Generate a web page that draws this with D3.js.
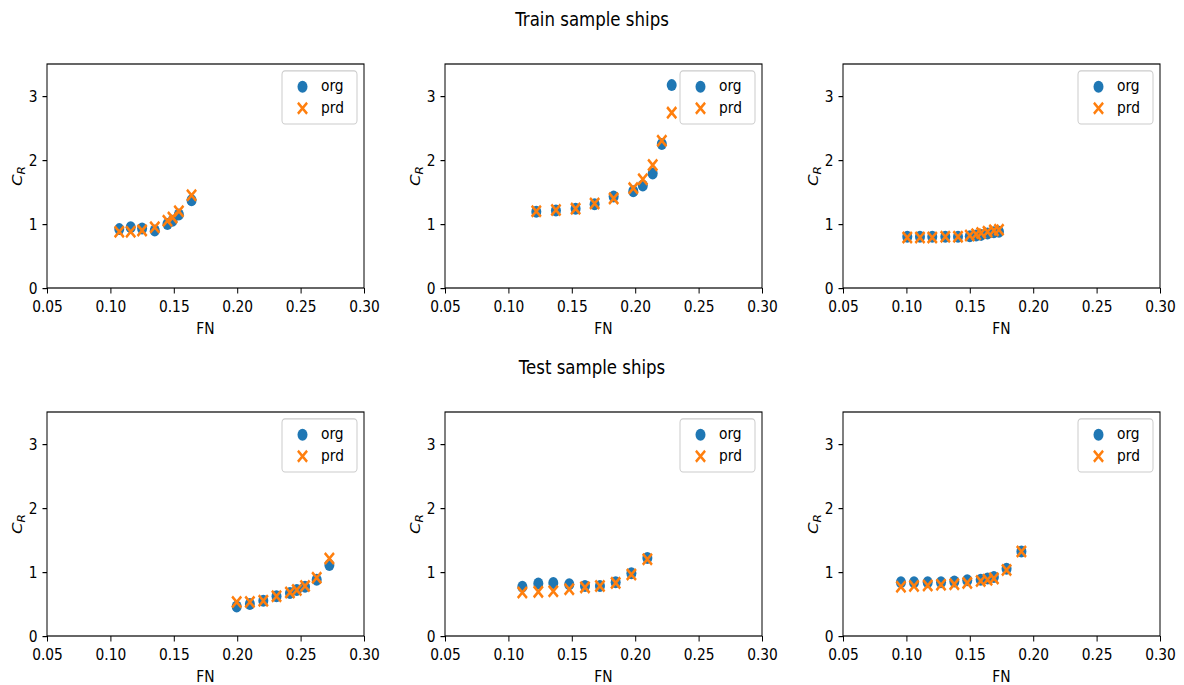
<!DOCTYPE html>
<html>
<head>
<meta charset="utf-8">
<script src="https://cdn.jsdelivr.net/npm/d3@7"></script>
<style>
  body { margin: 0; background: #fff; }
  svg { display: block; }
  text { font-family: "DejaVu Sans", sans-serif; fill: #000; }
</style>
</head>
<body>
<div id="chart"></div>
<script>
// ---- data ----
var titles = ['Train sample ships', 'Test sample ships'];
var xTicks = [0.05, 0.10, 0.15, 0.20, 0.25, 0.30];
var yTicks = [0, 1, 2, 3];

// train 1
var fn1  = [0.107, 0.116, 0.125, 0.135, 0.145, 0.149, 0.154, 0.164];
var org1 = [0.92, 0.95, 0.93, 0.90, 1.00, 1.05, 1.15, 1.37];
var prd1 = [0.88, 0.88, 0.90, 0.95, 1.05, 1.10, 1.20, 1.45];
// train 2
var fn2  = [0.122, 0.1375, 0.153, 0.168, 0.183, 0.1985, 0.206, 0.2138, 0.221, 0.2288];
var org2 = [1.19, 1.21, 1.24, 1.31, 1.43, 1.51, 1.60, 1.79, 2.25, 3.17];
var prd2 = [1.20, 1.22, 1.24, 1.32, 1.40, 1.56, 1.70, 1.92, 2.30, 2.74];
// train 3
var fn3  = [0.1007, 0.1107, 0.1204, 0.1307, 0.1407, 0.150, 0.155, 0.159, 0.164, 0.169, 0.173];
var org3 = [0.80, 0.80, 0.80, 0.80, 0.80, 0.81, 0.82, 0.83, 0.85, 0.87, 0.88];
var prd3 = [0.79, 0.79, 0.79, 0.80, 0.80, 0.82, 0.84, 0.86, 0.88, 0.90, 0.91];
// test 1
var fn4  = [0.1996, 0.210, 0.2206, 0.231, 0.2416, 0.247, 0.2535, 0.2627, 0.2727];
var org4 = [0.46, 0.50, 0.55, 0.62, 0.67, 0.72, 0.77, 0.88, 1.11];
var prd4 = [0.53, 0.53, 0.55, 0.62, 0.68, 0.72, 0.78, 0.91, 1.21];
// test 2
var fn5  = [0.111, 0.1236, 0.1354, 0.148, 0.1604, 0.1722, 0.1846, 0.197, 0.2096];
var org5 = [0.77, 0.82, 0.83, 0.81, 0.78, 0.78, 0.84, 0.98, 1.22];
var prd5 = [0.68, 0.69, 0.70, 0.73, 0.76, 0.78, 0.83, 0.96, 1.20];
// test 3
var fn6  = [0.0957, 0.106, 0.1168, 0.1273, 0.1378, 0.148, 0.1586, 0.164, 0.169, 0.179, 0.1907];
var org6 = [0.84, 0.84, 0.84, 0.84, 0.85, 0.87, 0.88, 0.90, 0.92, 1.05, 1.32];
var prd6 = [0.77, 0.78, 0.79, 0.80, 0.81, 0.83, 0.86, 0.88, 0.90, 1.03, 1.32];

var panels = [
  { fn: fn1, org: org1, prd: prd1 },
  { fn: fn2, org: org2, prd: prd2 },
  { fn: fn3, org: org3, prd: prd3 },
  { fn: fn4, org: org4, prd: prd4 },
  { fn: fn5, org: org5, prd: prd5 },
  { fn: fn6, org: org6, prd: prd6 }
];

// the original figure is stretched vertically, so draw in a squashed
// viewBox and let the browser stretch it back
var S = 1.2,
    W = 1184, H = 685,
    colLeft = [47, 445, 843],
    rowTop = [64 / S, 412 / S],
    pw = 317, ph = 224 / S,
    blue = '#1f77b4', orange = '#ff7f0e',
    tickFont = '13.8px';

var svg = d3.select('#chart').append('svg')
  .attr('width', W)
  .attr('height', H)
  .attr('viewBox', '0 0 ' + W + ' ' + (H / S))
  .attr('preserveAspectRatio', 'none');

// figure row titles
svg.selectAll('.row-title').data(titles)
  .enter().append('text')
    .attr('class', 'row-title')
    .attr('x', 592)
    .attr('y', function(d, i) { return i === 0 ? 26 / S : 374 / S; })
    .attr('text-anchor', 'middle')
    .style('font-size', '16.6px')
    .text(function(d) { return d; });

var x = d3.scaleLinear().domain([0.05, 0.30]).range([0, pw]);
var y = d3.scaleLinear().domain([0, 3.5]).range([ph, 0]);

function cross(cx, cy, s) {
  return 'M' + (cx - s) + ',' + (cy - s) + 'L' + (cx + s) + ',' + (cy + s) +
         'M' + (cx - s) + ',' + (cy + s) + 'L' + (cx + s) + ',' + (cy - s);
}

panels.forEach(function(p, k) {
  var g = svg.append('g')
    .attr('transform', 'translate(' + colLeft[k % 3] + ',' + rowTop[Math.floor(k / 3)] + ')');

  // axes
  var xa = g.append('g')
    .attr('transform', 'translate(0,' + ph + ')')
    .call(d3.axisBottom(x).tickValues(xTicks).tickFormat(d3.format('.2f')).tickSizeOuter(0).tickSize(4.5).tickPadding(5.5));
  var ya = g.append('g')
    .call(d3.axisLeft(y).tickValues(yTicks).tickFormat(d3.format('d')).tickSizeOuter(0).tickSize(4.5).tickPadding(5));
  [xa, ya].forEach(function(a) {
    a.selectAll('text').style('font-size', tickFont).style('font-family', '"DejaVu Sans", sans-serif').attr('fill', '#000');
    a.selectAll('line').attr('stroke', '#000').attr('stroke-width', 1);
    a.select('.domain').remove();
  });

  // frame
  g.append('rect')
    .attr('width', pw).attr('height', ph)
    .attr('fill', 'none')
    .attr('stroke', '#000')
    .attr('stroke-width', 1);

  // axis labels
  g.append('text')
    .attr('x', pw / 2).attr('y', ph + 38.3)
    .attr('text-anchor', 'middle')
    .style('font-size', tickFont)
    .text('FN');

  var yl = g.append('text')
    .attr('transform', 'translate(-25,' + ph / 2 + ') rotate(-90)')
    .attr('text-anchor', 'middle')
    .style('font-size', tickFont);
  yl.append('tspan').style('font-style', 'italic').text('C');
  yl.append('tspan').attr('dy', 3).style('font-size', '10px').style('font-style', 'italic').text('R');

  // org points
  g.selectAll('.org').data(p.fn)
    .enter().append('circle')
      .attr('class', 'org')
      .attr('cx', function(d) { return x(d); })
      .attr('cy', function(d, i) { return y(p.org[i]); })
      .attr('r', 5)
      .attr('fill', blue);

  // prd points
  g.selectAll('.prd').data(p.fn)
    .enter().append('path')
      .attr('class', 'prd')
      .attr('d', function(d, i) { return cross(x(d), y(p.prd[i]), 4.6); })
      .attr('stroke', orange)
      .attr('stroke-width', 2.4)
      .attr('fill', 'none');

  // legend
  var lg = g.append('g').attr('transform', 'translate(' + (pw - 82) + ',5.8)');
  lg.append('rect')
    .attr('width', 75).attr('height', 44.2)
    .attr('rx', 3)
    .attr('fill', '#fff').attr('fill-opacity', 0.8)
    .attr('stroke', '#ccc');
  lg.append('circle')
    .attr('cx', 20.5).attr('cy', 13.1).attr('r', 5)
    .attr('fill', blue);
  lg.append('path')
    .attr('d', cross(20.5, 31.1, 4.6))
    .attr('stroke', orange).attr('stroke-width', 2.4);
  lg.append('text').attr('x', 39).attr('y', 16.7).style('font-size', tickFont).text('org');
  lg.append('text').attr('x', 39).attr('y', 35).style('font-size', tickFont).text('prd');
});
</script>
</body>
</html>
